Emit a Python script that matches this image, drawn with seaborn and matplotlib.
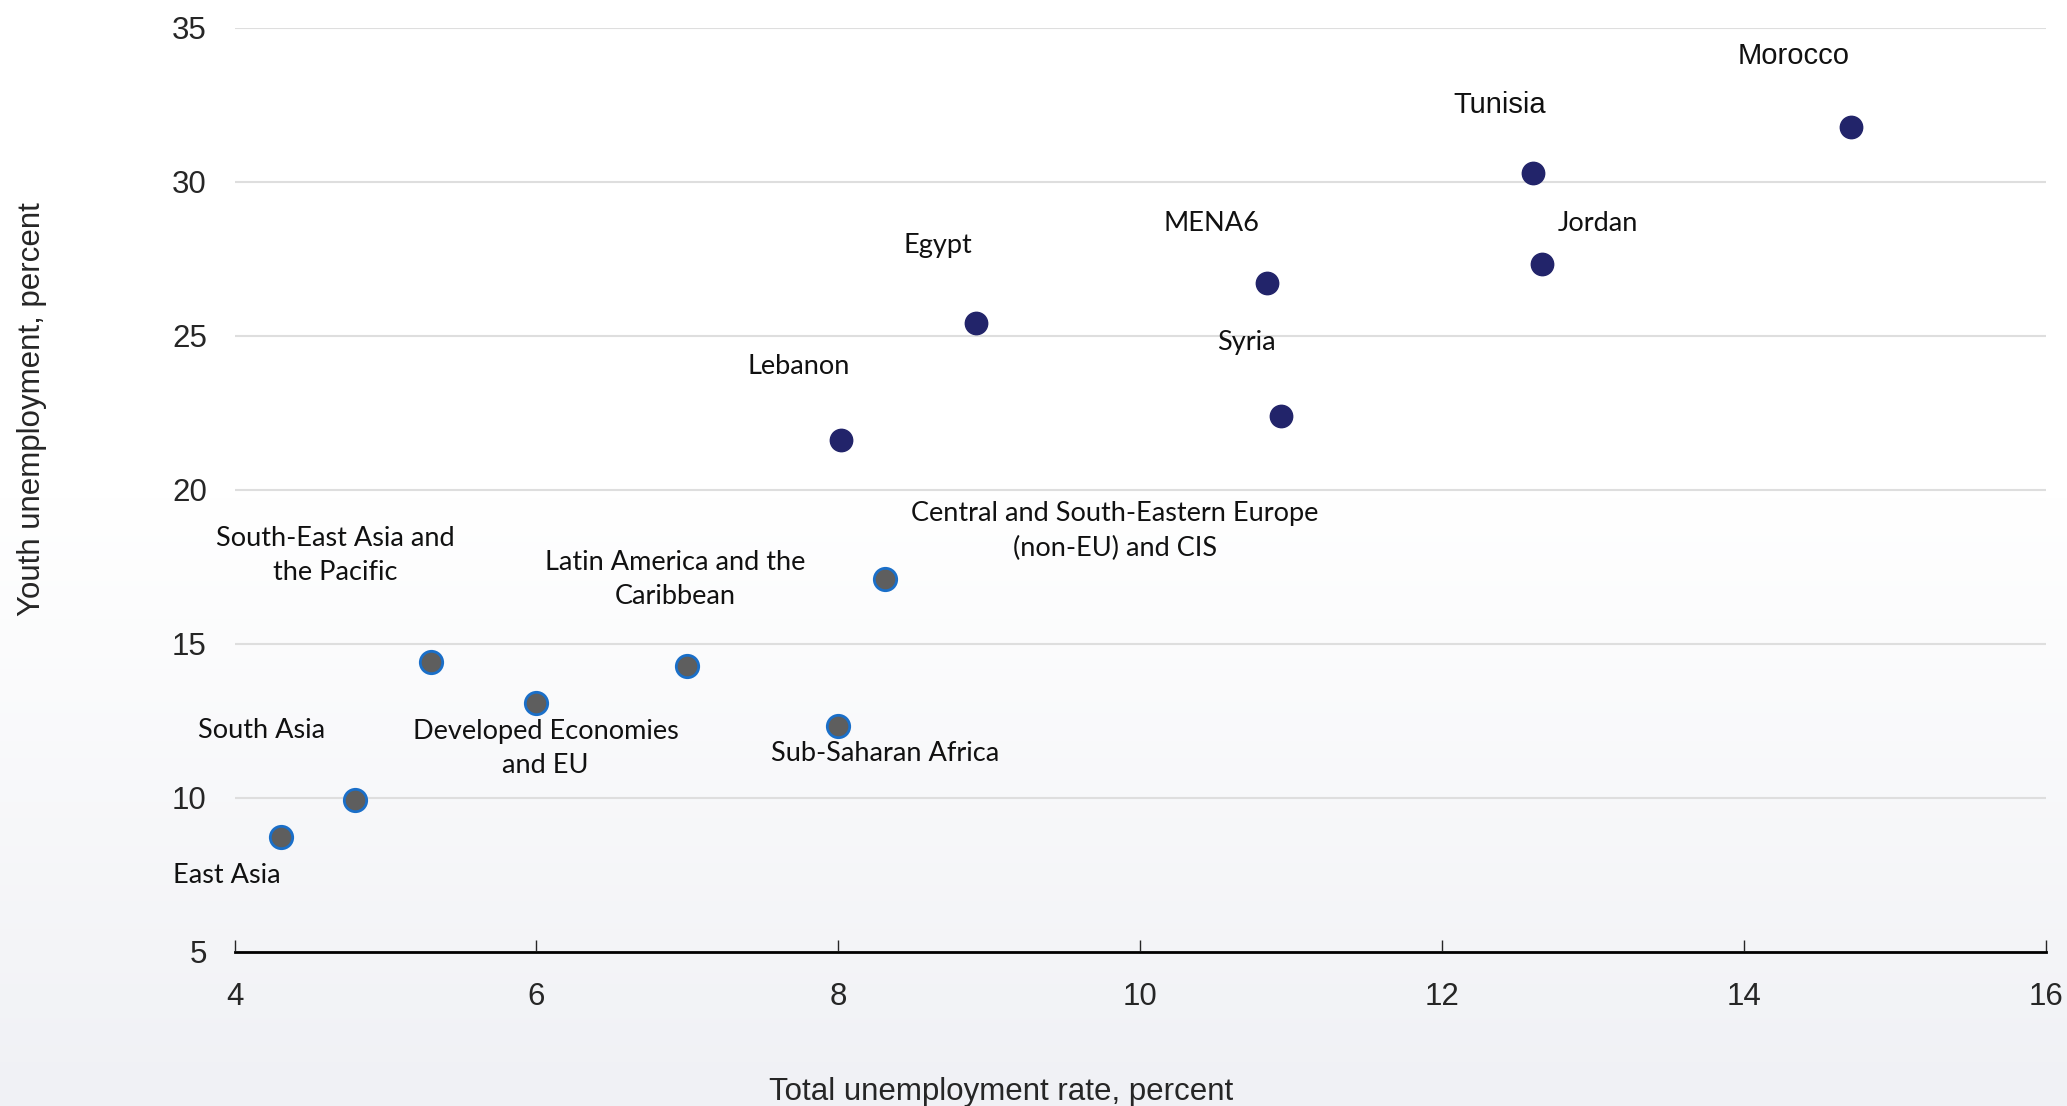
import matplotlib
matplotlib.use("Agg")
from matplotlib import pyplot as plt
import numpy as np
import pandas as pd
import seaborn as sns

# ----------------------------- data

regions = ["East Asia", "South Asia", "South-East Asia and\nthe Pacific",
           "Developed Economies\nand EU", "Latin America and the\nCaribbean",
           "Sub-Saharan Africa", "Central and South-Eastern Europe\n(non-EU) and CIS"]
regions_total = [4.31, 4.80, 5.30, 6.00, 7.00, 8.00, 8.31]
regions_youth = [8.73, 9.93, 14.42, 13.09, 14.29, 12.32, 17.11]

countries = ["Lebanon", "Egypt", "MENA6", "Syria", "Tunisia", "Jordan", "Morocco"]
countries_total = [8.02, 8.91, 10.84, 10.93, 12.60, 12.66, 14.71]
countries_youth = [21.61, 25.42, 26.70, 22.38, 30.29, 27.34, 31.79]

x_ticks = [4, 6, 8, 10, 12, 14, 16]
y_ticks = [5, 10, 15, 20, 25, 30, 35]

# label offsets (data units) relative to each point
label_offsets = {
    "East Asia": (-0.36, -1.25),
    "South Asia": (-0.62, 2.25),
    "South-East Asia and\nthe Pacific": (-0.63, 3.45),
    "Developed Economies\nand EU": (0.06, -1.5),
    "Latin America and the\nCaribbean": (-0.08, 2.8),
    "Sub-Saharan Africa": (0.31, -0.9),
    "Central and South-Eastern Europe\n(non-EU) and CIS": (1.52, 1.55),
    "Lebanon": (-0.28, 2.4),
    "Egypt": (-0.25, 2.5),
    "MENA6": (-0.37, 1.95),
    "Syria": (-0.23, 2.4),
    "Tunisia": (-0.22, 2.2),
    "Jordan": (0.37, 1.3),
    "Morocco": (-0.38, 2.3),
}
arial_labels = ["Tunisia", "Morocco"]

df_reg = pd.DataFrame({"name": regions, "total": regions_total, "youth": regions_youth})
df_cty = pd.DataFrame({"name": countries, "total": countries_total, "youth": countries_youth})

# -----------------------------

sns.set_style("white")
plt.rcParams["font.family"] = ["Liberation Sans", "DejaVu Sans"]

fig = plt.figure(figsize=(20.67, 11.06), dpi=100)

# background gradient: white at top, pale grey-blue at bottom
bg = fig.add_axes([0, 0, 1, 1], zorder=-10)
grad = np.ones((200, 1, 3))
t = np.clip((np.linspace(0, 1, 200) - 0.45) / 0.55, 0, 1)
bottom = np.array([240, 241, 245]) / 255.0
for i in range(3):
    grad[:, 0, i] = 1 - t * (1 - bottom[i])
bg.imshow(grad, aspect="auto", extent=[0, 1, 0, 1], origin="upper")
bg.axis("off")

ax = fig.add_axes([0.1135, 0.1395, 0.8763, 0.8355])
ax.patch.set_alpha(0)

sns.scatterplot(x="total", y="youth", data=df_reg, ax=ax, s=260,
                color="#5e5e5e", edgecolor="#1a6fc9", linewidth=2, zorder=3)
sns.scatterplot(x="total", y="youth", data=df_cty, ax=ax, s=260,
                color="#22246a", edgecolor="#22246a", linewidth=1, zorder=3)

for df in (df_reg, df_cty):
    for _, row in df.iterrows():
        dx, dy = label_offsets[row["name"]]
        if row["name"] in arial_labels:
            fam, fs = ["Liberation Sans"], 21
        else:
            fam, fs = ["Lato", "DejaVu Sans"], 19.5
        ax.text(row["total"] + dx, row["youth"] + dy, row["name"], ha="center", va="center",
                fontsize=fs, family=fam, linespacing=1.45, color="#111111")

ax.set_xlim(4, 16)
ax.set_ylim(5, 35)
ax.set_xticks(x_ticks)
ax.set_yticks(y_ticks)
ax.yaxis.grid(True, color="#dedede", linewidth=1.5)
ax.set_axisbelow(True)

for side in ["left", "right", "top"]:
    ax.spines[side].set_visible(False)
ax.spines["bottom"].set_color("black")
ax.spines["bottom"].set_linewidth(2)

ax.tick_params(axis="x", direction="in", length=9, width=1, pad=22, labelsize=22.5, bottom=True)
ax.tick_params(axis="y", length=0, pad=20, labelsize=22.5)

ax.set_xlabel("Total unemployment rate, percent", fontsize=22.5)
ax.xaxis.set_label_coords(0.423, -0.136)
ax.set_ylabel("Youth unemployment, percent", fontsize=22.5)
ax.yaxis.set_label_coords(-0.1036, 0.587)

path = "out.png"
plt.savefig(path, dpi=100)
print(f"Saved figure to {path}.")
plt.close()
